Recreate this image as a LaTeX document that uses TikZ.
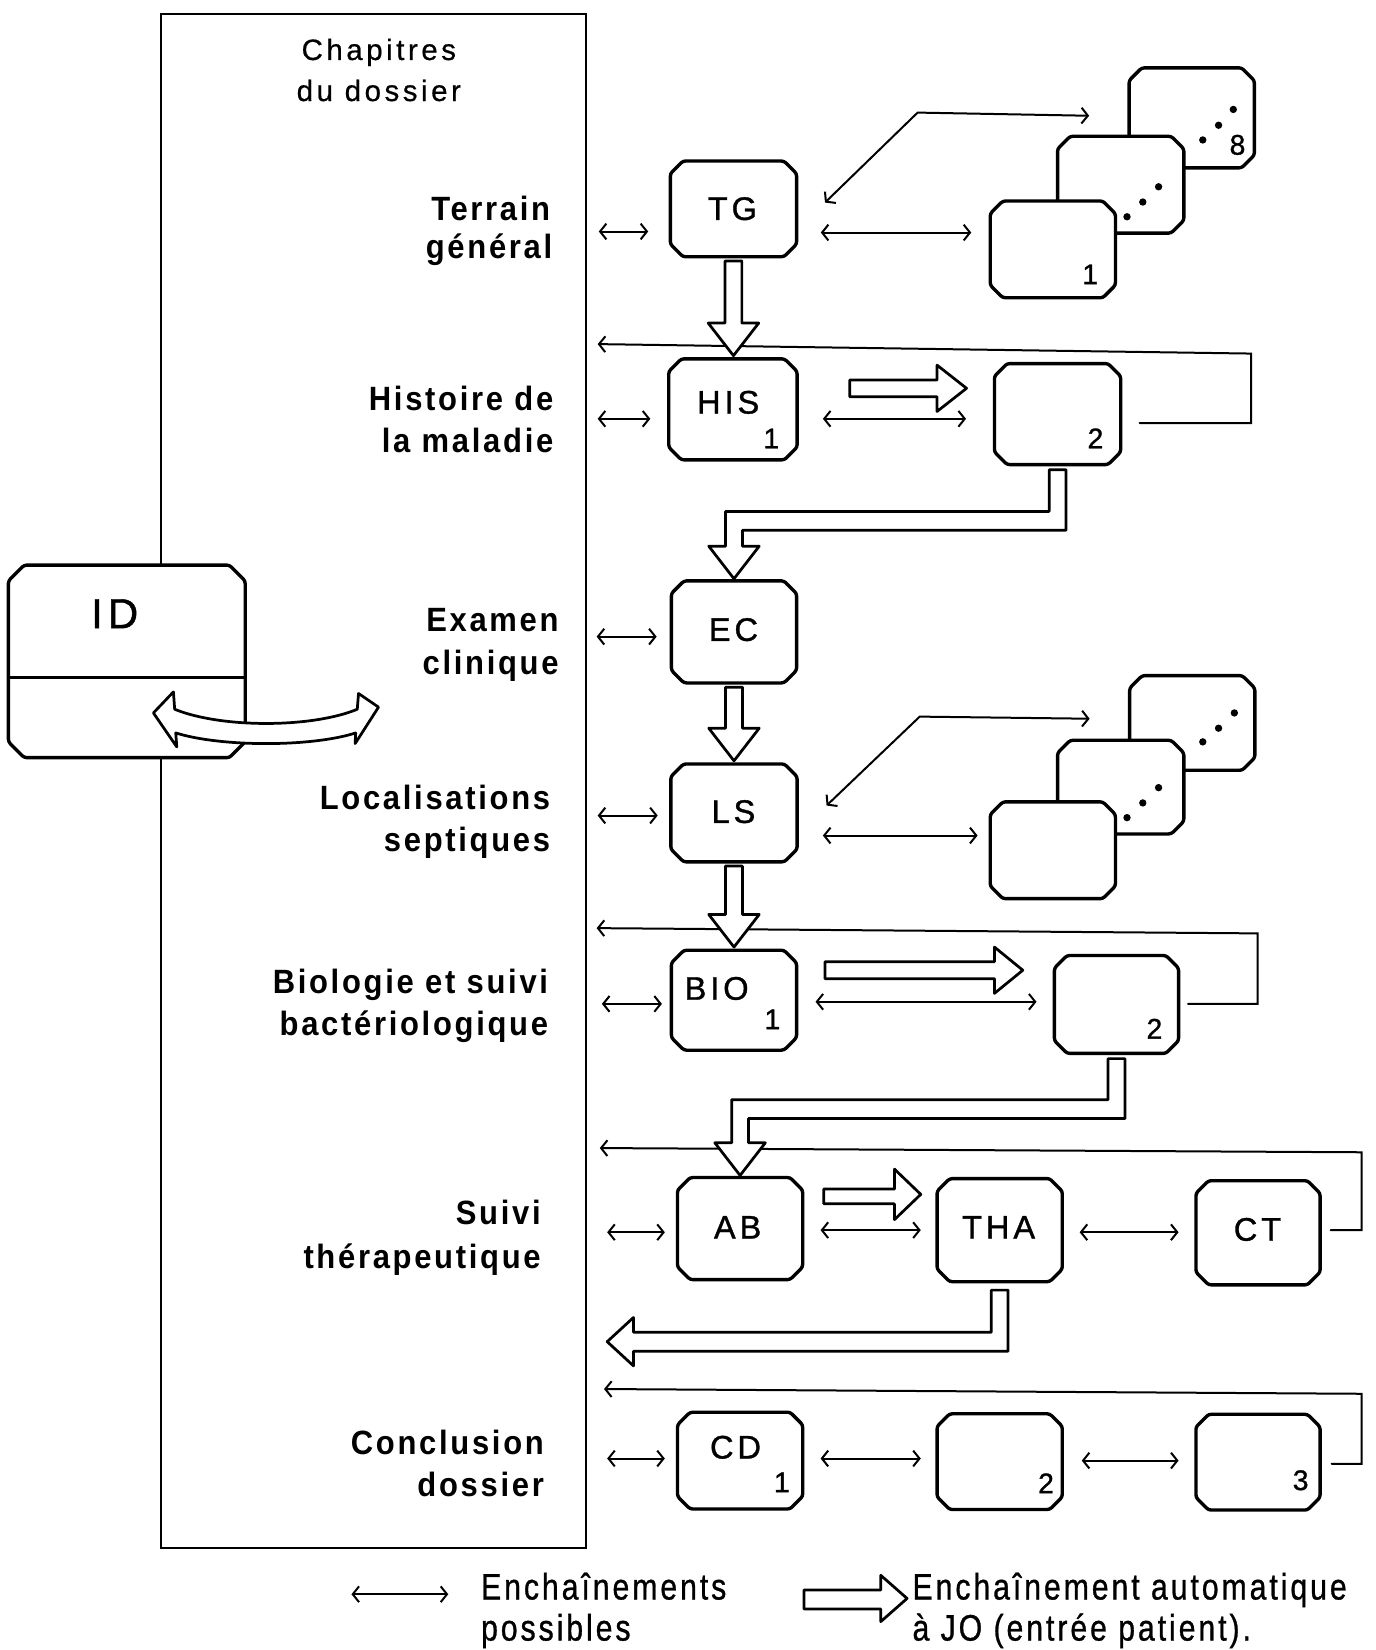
\documentclass[tikz,border=0pt]{standalone}
\usepackage{fontspec}
\setmainfont{Liberation Sans}
\newfontfamily\chapfont[LetterSpace=8,FakeStretch=0.92]{Liberation Sans}
\newfontfamily\boxfont[LetterSpace=12,FakeBold=1]{Liberation Sans}
\newfontfamily\headfont[LetterSpace=12,FakeBold=0.6]{Liberation Sans}
\newfontfamily\legfont[LetterSpace=8,FakeStretch=0.82,FakeBold=0.8]{Liberation Sans}
\usetikzlibrary{arrows.meta,calc}

% chamfered box: [chamfer]{name}{x}{y}{width}{height}
\newcommand\chbox[6][12pt]{%
  \node[boxarea, minimum width=#5, minimum height=#6] (#2) at (#3,#4) {};
  \draw[boxline] ([xshift=#1]#2.north west) -- ([xshift=-#1]#2.north east)
    -- ([yshift=-#1]#2.north east) -- ([yshift=#1]#2.south east)
    -- ([xshift=-#1]#2.south east) -- ([xshift=#1]#2.south west)
    -- ([yshift=#1]#2.south west) -- ([yshift=-#1]#2.north west) -- cycle;}

% hollow arrow pointing down from one box to the next
\newcommand\vhollow[2]{%
  \draw[hollow] let \p1=([yshift=-4pt]#1.south), \p2=([yshift=3pt]#2.north) in
    (\x1-8pt,\y1) -- (\x1+8pt,\y1) -- (\x1+8pt,\y2+31pt) -- (\x1+24pt,\y2+31pt)
    -- (\x1,\y2) -- (\x1-24pt,\y2+31pt) -- (\x1-8pt,\y2+31pt) -- cycle;}

% hollow L-shaped arrow: from box, to box, top of the horizontal band
\newcommand\lhollow[3]{%
  \draw[hollow] let \p1=([yshift=-5pt]#1.south), \p2=([yshift=2pt]#2.north), \p3=(0,#3) in
    (\x1-8pt,\y1) -- (\x1+8pt,\y1) -- (\x1+8pt,\y3-18pt) -- (\x2+8pt,\y3-18pt)
    -- (\x2+8pt,\y2+31pt) -- (\x2+24pt,\y2+31pt) -- (\x2,\y2) -- (\x2-24pt,\y2+31pt)
    -- (\x2-8pt,\y2+31pt) -- (\x2-8pt,\y3) -- (\x1-8pt,\y3) -- cycle;}

% hollow arrow pointing right: start, tip, stem half height, head half height, head length
\newcommand\rhollow[5]{%
  \draw[hollow] let \p1=(#1), \p2=(#2) in
    (\x1,\y1+#3) -- (\x2-#5,\y1+#3) -- (\x2-#5,\y2+#4) -- (\x2,\y2)
    -- (\x2-#5,\y2-#4) -- (\x2-#5,\y1-#3) -- (\x1,\y1-#3) -- cycle;}

\begin{document}
\begin{tikzpicture}[x=1pt,y=-1pt,
  barb/.tip={Straight Barb[length=6pt,width=15pt]},
  dbl/.style={line width=1.9pt, line cap=round, barb-barb},
  fb/.style={line width=1.9pt, line cap=round, line join=miter, -barb},
  boxarea/.style={rectangle, inner sep=0pt, outer sep=0pt},
  boxline/.style={draw, fill=white, line width=3.2pt, rounded corners=2.5pt},
  hollow/.style={draw, fill=white, line width=2.6pt, line join=round},
  chap/.style={font=\chapfont\bfseries\fontsize{32}{38}\selectfont, inner sep=0pt, anchor=base east},
  lbl/.style={font=\boxfont\fontsize{31}{36}\selectfont, inner sep=0pt, anchor=base},
  numtxt/.style={font=\boxfont\fontsize{27}{30}\selectfont, inner sep=0pt, anchor=base},
  headtxt/.style={font=\headfont\fontsize{28}{32}\selectfont, inner sep=0pt, anchor=base},
  legtxt/.style={font=\legfont\fontsize{35}{40}\selectfont, inner sep=0pt, anchor=base west},
  stackdot/.style={circle, fill, inner sep=0pt, minimum size=7pt}
]
\useasboundingbox (0,0) rectangle (1307,1568);

% chapter panel
\node[draw, line width=2pt, minimum width=404, minimum height=1458, anchor=north west, inner sep=0pt] (panel) at (152,12) {};

\node[headtxt] (h1) at (360,57) {Chapitres};
\node[headtxt] (h2) at (360,96) {du dossier};

\node[chap] (c1a) at (523,210) {Terrain};
\node[chap] (c1b) at (525,246) {général};
\node[chap] (c2a) at (526,390) {Histoire de};
\node[chap] (c2b) at (526,430) {la maladie};
\node[chap] (c3a) at (531,600) {Examen};
\node[chap] (c3b) at (531,641) {clinique};
\node[chap] (c4a) at (523,769) {Localisations};
\node[chap] (c4b) at (523,809) {septiques};
\node[chap] (c5a) at (521,944) {Biologie et suivi};
\node[chap] (c5b) at (521,984) {bactériologique};
\node[chap] (c6a) at (514,1164) {Suivi};
\node[chap] (c6b) at (514,1205) {thérapeutique};
\node[chap] (c7a) at (517,1382) {Conclusion};
\node[chap] (c7b) at (517,1422) {dossier};

% screens
\chbox{TG}{697}{198.5}{120}{91}
\chbox{HIS}{696.5}{389}{122}{96}
\chbox{EC}{697.5}{600.5}{119}{97}
\chbox{LS}{697.5}{772.5}{120}{93}
\chbox{BIO}{697.5}{950.5}{119}{95}
\chbox{AB}{703.3}{1167.5}{119}{97}
\chbox{THA}{950}{1169}{119}{98}
\chbox{CT}{1195.5}{1171.5}{118}{99}
\chbox{CD}{703.3}{1388}{119}{92}
\chbox{CDb}{950}{1389}{119}{91}
\chbox{CDc}{1195.5}{1389.5}{118}{91}
\chbox{HISb}{1005}{393.5}{120}{96}
\chbox{BIOb}{1061}{954.5}{118}{93}

% stacked screens
\chbox{TGc}{1132.5}{112}{119}{95}
\chbox{TGb}{1065}{175.5}{120}{92}
\chbox{TGa}{1000.5}{237}{119}{92}
\chbox{LSc}{1133}{687}{119}{90}
\chbox{LSb}{1065}{748}{120}{89}
\chbox{LSa}{1000.5}{808}{119}{92}

\node[stackdot] (d1) at (1071,206) {};
\node[stackdot] (d2) at (1086,192) {};
\node[stackdot] (d3) at (1101,177.5) {};
\node[stackdot] (d4) at (1143,133) {};
\node[stackdot] (d5) at (1158,119) {};
\node[stackdot] (d6) at (1172,104) {};
\node[stackdot] (d7) at (1071,777) {};
\node[stackdot] (d8) at (1086,763) {};
\node[stackdot] (d9) at (1101,748.5) {};
\node[stackdot] (d10) at (1143,705) {};
\node[stackdot] (d11) at (1158,692) {};
\node[stackdot] (d12) at (1173,677.5) {};

% box labels
\node[lbl] (tTG) at (696,209) {TG};
\node[lbl] (tHIS) at (692,393) {HIS};
\node[numtxt] (nHIS) at (733,426) {1};
\node[lbl] (tEC) at (697,609) {EC};
\node[lbl] (tLS) at (697,782) {LS};
\node[lbl] (tBIO) at (681,950) {BIO};
\node[numtxt] (nBIO) at (734,978) {1};
\node[lbl] (tAB) at (701,1177) {AB};
\node[lbl] (tTHA) at (949,1177) {THA};
\node[lbl] (tCT) at (1195,1179) {CT};
\node[lbl] (tCD) at (699,1386) {CD};
\node[numtxt] (nCD) at (743,1418) {1};
\node[numtxt] (nCDb) at (994,1419) {2};
\node[numtxt] (nCDc) at (1236,1416) {3};
\node[numtxt] (nHISb) at (1041,426) {2};
\node[numtxt] (nBIOb) at (1097,987) {2};
\node[numtxt] (nTGa) at (1036,270) {1};
\node[numtxt] (nTGc) at (1176,147) {8};

% possible links with the chapter panel
\draw[dbl] ([xshift=11pt]panel.east |- 0,220) -- ([xshift=-21pt]TG.west |- 0,220);
\draw[dbl] ([xshift=10pt]panel.east |- 0,398) -- ([xshift=-17.5pt]HIS.west |- 0,398);
\draw[dbl] ([xshift=9pt]panel.east |- 0,605) -- ([xshift=-14pt]EC.west |- 0,605);
\draw[dbl] ([xshift=10pt]panel.east |- 0,775) -- ([xshift=-12.5pt]LS.west |- 0,775);
\draw[dbl] ([xshift=14pt]panel.east |- 0,954) -- ([xshift=-9pt]BIO.west |- 0,954);
\draw[dbl] ([xshift=19pt]panel.east |- 0,1171) -- ([xshift=-12pt]AB.west |- 0,1171);
\draw[dbl] ([xshift=19pt]panel.east |- 0,1386) -- ([xshift=-12pt]CD.west |- 0,1386);

% possible links between screens
\draw[dbl] ([xshift=23pt]TG.east |- 0,221) -- ([xshift=-18pt]TGa.west |- 0,221);
\draw[dbl] ([shift={(27,-6)}]TG.east) -- (872,107) -- ([xshift=-38pt]TGc.west |- 0,110);
\draw[dbl] ([xshift=24.5pt]HIS.east |- 0,398) -- ([xshift=-27pt]HISb.west |- 0,398);
\draw[dbl] ([xshift=24.5pt]LS.east |- 0,794) -- ([xshift=-12pt]LSa.west |- 0,794);
\draw[dbl] ([shift={(28,-7)}]LS.east) -- (874,681) -- ([xshift=-38pt]LSc.west |- 0,683);
\draw[dbl] ([xshift=18pt]BIO.east |- 0,952) -- ([xshift=-17pt]BIOb.west |- 0,952);
\draw[dbl] ([xshift=17pt]AB.east |- 0,1169) -- ([xshift=-15.5pt]THA.west |- 0,1169);
\draw[dbl] ([xshift=16.5pt]THA.east |- 0,1171) -- ([xshift=-16.5pt]CT.west |- 0,1171);
\draw[dbl] ([xshift=17pt]CD.east |- 0,1386) -- ([xshift=-15.5pt]CDb.west |- 0,1386);
\draw[dbl] ([xshift=18.5pt]CDb.east |- 0,1388) -- ([xshift=-16.5pt]CDc.west |- 0,1388);

% returns to the chapter panel
\draw[fb] ([xshift=18pt]HISb.east |- 0,402) -- (1189,402) -- (1189,336) -- ([xshift=10pt]panel.east |- 0,327);
\draw[fb] ([xshift=9pt]BIOb.east |- 0,954) -- (1195,954) -- (1195,887) -- ([xshift=9pt]panel.east |- 0,882);
\draw[fb] ([xshift=10pt]CT.east |- 0,1169) -- (1294,1169) -- (1294,1095) -- ([xshift=12pt]panel.east |- 0,1091);
\draw[fb] ([xshift=11pt]CDc.east |- 0,1391) -- (1294,1391) -- (1294,1324.5) -- ([xshift=16pt]panel.east |- 0,1320);

% automatic sequence
\vhollow{TG}{HIS}
\vhollow{EC}{LS}
\vhollow{LS}{BIO}
\lhollow{HISb}{EC}{486}
\lhollow{BIOb}{AB}{1045}
\rhollow{[shift={(50,-20)}]HIS.east}{[shift={(-26.5,-24.5)}]HISb.west}{8pt}{22pt}{28pt}
\rhollow{[shift={(27,-28.5)}]BIO.east}{[shift={(-30,-32.5)}]BIOb.west}{8pt}{22pt}{27pt}
\rhollow{[shift={(20,-30.5)}]AB.east}{[shift={(-15.5,-34)}]THA.west}{7pt}{24pt}{25pt}
\coordinate (THAtip) at (577,1275);
\draw[hollow] let \p1=([yshift=-8pt]THA.south), \p2=(THAtip) in
  (\x1-8pt,\y1) -- (\x1+8pt,\y1) -- (\x1+8pt,\y2-9pt) -- (\x2+25pt,\y2-9pt)
  -- (\x2+25pt,\y2-23pt) -- (\x2,\y2) -- (\x2+25pt,\y2+23pt) -- (\x2+25pt,\y2+9pt)
  -- (\x1-8pt,\y2+9pt) -- cycle;

% identification screen
\chbox[15pt]{ID}{120.5}{628.5}{225}{183}
\draw[line width=2.8pt] (ID.west |- 0,644) -- (ID.east |- 0,644);
\node[lbl, font=\boxfont\fontsize{40}{46}\selectfont] (tID) at (109,597) {ID};
\draw[hollow, line width=2.6pt] (166,674) .. controls (210,692) and (296,692) .. (339.5,674)
  -- (340.7,659) -- (359.7,672) -- (337.5,706.6) -- (338,696.5)
  .. controls (296,710) and (210,710) .. (167,696.5)
  -- (168,709.8) -- (145.8,677.5) -- (164.8,657.5) -- cycle;

% legend
\coordinate (legA) at (334,1515);
\coordinate (legB) at (426,1515);
\draw[dbl] (legA) -- (legB);
\node[legtxt] (leg1) at (457,1520) {Enchaînements};
\node[legtxt] (leg2) at (457,1559) {possibles};
\coordinate (legC) at (764,1520);
\coordinate (legD) at (862,1519);
\rhollow{legC}{legD}{9pt}{22pt}{25pt}
\node[legtxt] (leg3) at (867,1520) {Enchaînement automatique};
\node[legtxt] (leg4) at (867,1559) {à JO (entrée patient).};
\end{tikzpicture}
\end{document}
